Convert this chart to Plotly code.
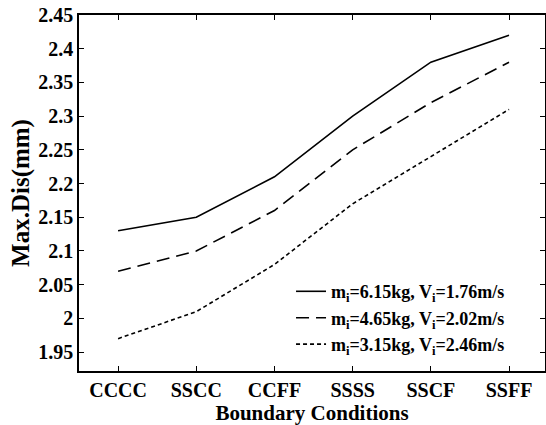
import plotly.graph_objects as go

categories = ["CCCC", "SSCC", "CCFF", "SSSS", "SSCF", "SSFF"]
series_names = [
    "m<sub>i</sub>=6.15kg, V<sub>i</sub>=1.76m/s",
    "m<sub>i</sub>=4.65kg, V<sub>i</sub>=2.02m/s",
    "m<sub>i</sub>=3.15kg, V<sub>i</sub>=2.46m/s",
]
s1 = [2.13, 2.15, 2.21, 2.30, 2.38, 2.42]
s2 = [2.07, 2.10, 2.16, 2.25, 2.32, 2.38]
s3 = [1.97, 2.01, 2.08, 2.17, 2.24, 2.31]
yticks = [1.95, 2.0, 2.05, 2.1, 2.15, 2.2, 2.25, 2.3, 2.35, 2.4, 2.45]
ytick_text = ["1.95", "2", "2.05", "2.1", "2.15", "2.2", "2.25", "2.3", "2.35", "2.4", "2.45"]

xs = list(range(1, len(categories) + 1))
dashes = ["solid", "13px,7px", "4px,3px"]

FF = "Liberation Serif, Times New Roman, serif"


def b(t):
    return "<b>" + t + "</b>"


fig = go.Figure()
for name, vals, d in zip(series_names, [s1, s2, s3], dashes):
    fig.add_trace(go.Scatter(x=xs, y=vals, mode="lines", name=b(name),
                             line=dict(color="black", width=1.6, dash=d)))

fig.update_layout(
    template="none",
    width=546, height=425,
    margin=dict(l=79, r=1, t=15, b=54, autoexpand=False),
    plot_bgcolor="white", paper_bgcolor="white",
    font=dict(family=FF, color="black", size=18),
    showlegend=True,
    legend=dict(x=0.455, y=0.275, xanchor="left", yanchor="top",
                bgcolor="rgba(0,0,0,0)", borderwidth=0,
                font=dict(family=FF, size=18, color="black"),
                tracegroupgap=0),
)
fig.update_xaxes(
    range=[0.5, 6.46], tickvals=xs, ticktext=[b(c) for c in categories],
    automargin=False,
    showline=True, linecolor="black", linewidth=1.5, mirror="ticks",
    ticks="inside", ticklen=5, tickcolor="black", tickwidth=1, showgrid=False, zeroline=False,
    tickfont=dict(family=FF, size=20, color="black"),
    title=dict(text=b("Boundary Conditions"), standoff=2,
               font=dict(family=FF, size=21, color="black")),
)
fig.update_yaxes(
    range=[1.922, 2.45], tickvals=yticks, ticktext=[b(t) for t in ytick_text],
    automargin=False,
    showline=True, linecolor="black", linewidth=1.5, mirror="ticks",
    ticks="inside", ticklen=5, tickcolor="black", tickwidth=1, showgrid=False, zeroline=False,
    tickfont=dict(family=FF, size=20, color="black"),
    title=dict(text=b("Max.Dis(mm)"), standoff=2,
               font=dict(family=FF, size=25, color="black")),
)

fig.write_html("out.html", config={"displayModeBar": False},
               post_script="document.body.style.margin='0px';document.body.style.overflow='hidden';")
